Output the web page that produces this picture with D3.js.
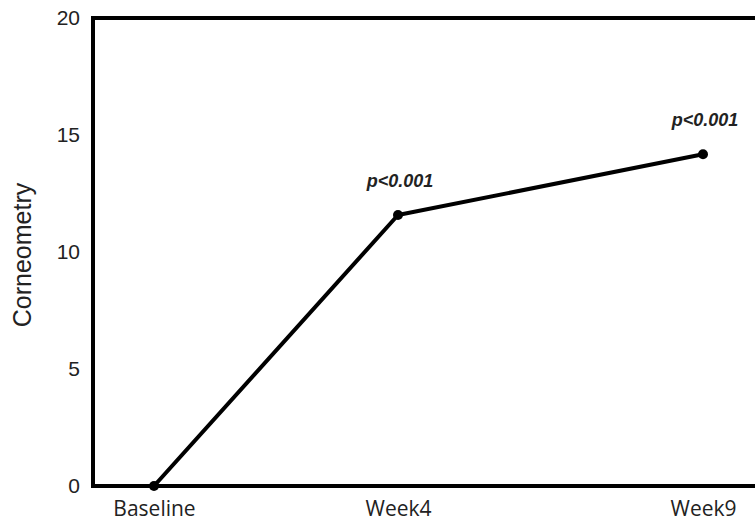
<html>
<head><meta charset="utf-8"></head>
<body style="margin:0;background:#fff">
<svg width="755" height="523" style="background:#fff"></svg>
<script src="https://cdn.jsdelivr.net/npm/d3@7/dist/d3.min.js"></script>
<script>
const svg = d3.select("svg");

// data
const weeks = [0, 4, 9];
const timeLabels = ["Baseline", "Week4", "Week9"];
const corneometry = [0, 11.58, 14.18];
const pLabels = ["", "p<0.001", "p<0.001"];
const yTicks = [0, 5, 10, 15, 20];

const x = d3.scaleLinear().domain([-1, 10]).range([93, 764]);
const y = d3.scaleLinear().domain([0, 20]).range([486, 18]);

// frame (right side runs off the picture)
svg.append("rect")
  .attr("x", x(-1)).attr("y", y(20))
  .attr("width", x(10) - x(-1)).attr("height", y(0) - y(20))
  .attr("fill", "none").attr("stroke", "#000").attr("stroke-width", 4);

// y tick labels
const yAxis = svg.append("g").attr("transform", "translate(" + x(-1) + ",0)")
  .call(d3.axisLeft(y).tickValues(yTicks).tickSize(0).tickPadding(13));
yAxis.select(".domain").remove();
yAxis.selectAll("text")
  .attr("font-family", "Liberation Sans, Arial, sans-serif")
  .attr("font-size", 21).attr("fill", "#222");

// x labels
const xAxis = svg.append("g").attr("transform", "translate(0," + y(0) + ")")
  .call(d3.axisBottom(x).tickValues(weeks).tickSize(0).tickPadding(15)
    .tickFormat((d, i) => timeLabels[i]));
xAxis.select(".domain").remove();
xAxis.selectAll("text")
  .attr("font-family", "Open Sans, Noto Sans, sans-serif")
  .attr("font-size", 21).attr("fill", "#222");

// y title
svg.append("text")
  .attr("transform", "translate(31," + 255 + ") rotate(-90)")
  .attr("text-anchor", "middle")
  .attr("font-family", "Liberation Sans, Arial, sans-serif")
  .attr("font-size", 25).attr("fill", "#222")
  .text("Corneometry");

const pts = weeks.map((w, i) => ({w: w, v: corneometry[i], p: pLabels[i]}));

svg.append("path").datum(pts)
  .attr("fill", "none").attr("stroke", "#000").attr("stroke-width", 4)
  .attr("stroke-linejoin", "round")
  .attr("d", d3.line().x(d => x(d.w)).y(d => y(d.v)));

svg.selectAll("circle.pt").data(pts).enter().append("circle")
  .attr("cx", d => x(d.w)).attr("cy", d => y(d.v)).attr("r", 5)
  .attr("fill", "#000");

svg.selectAll("text.p").data(pts.filter(d => d.p)).enter().append("text")
  .attr("x", d => x(d.w) + 2).attr("y", d => y(d.v) - 28)
  .attr("text-anchor", "middle")
  .attr("font-family", "Liberation Sans, Arial, sans-serif")
  .attr("font-size", 18).attr("font-weight", "bold").attr("font-style", "italic")
  .attr("fill", "#222")
  .text(d => d.p);
</script>
</body>
</html>
